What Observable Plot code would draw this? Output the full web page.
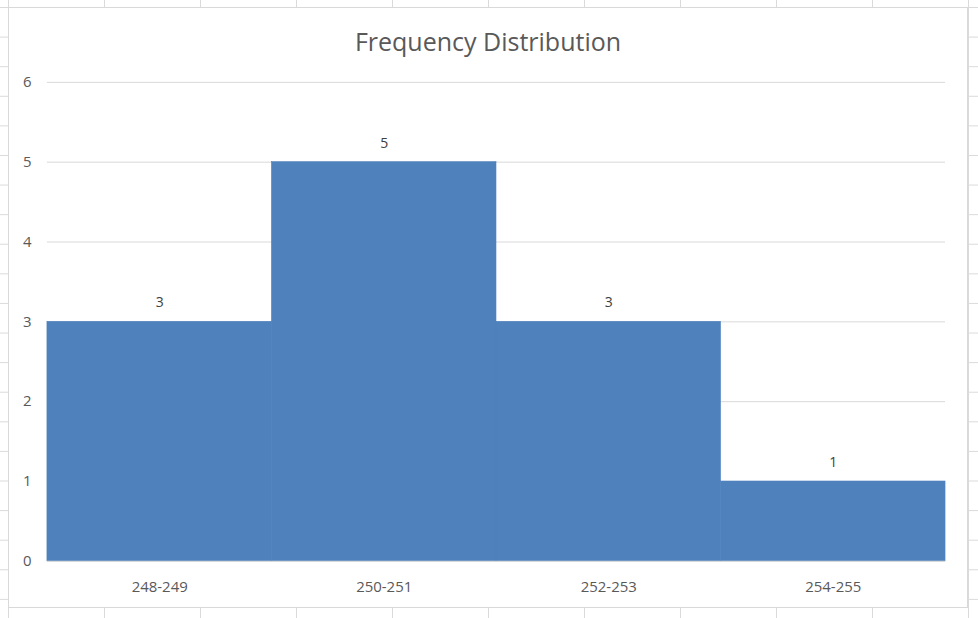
<!DOCTYPE html>
<html>
<head>
<meta charset="utf-8">
<script src="https://cdn.jsdelivr.net/npm/d3@7"></script>
<script src="https://cdn.jsdelivr.net/npm/@observablehq/plot@0.6"></script>
<style>
  html, body { margin: 0; padding: 0; }
  body {
    width: 978px; height: 618px; overflow: hidden; position: relative;
    background-color: #fff;
    background-image:
      linear-gradient(to right, #dadada 1px, transparent 1px),
      linear-gradient(to bottom, #dadada 1px, transparent 1px);
    background-size: 96px 29.6px, 96px 29.6px;
    background-position: 8px 7px, 0px 7px;
    font-family: "Open Sans", "Noto Sans", sans-serif;
  }
  #chart {
    position: absolute; left: 8px; top: 7px; width: 960px; height: 601px;
    background: #fff; border: 1px solid #d9d9d9; box-sizing: border-box;
  }
  #title {
    position: absolute; left: 0; width: 100%; top: 16px; text-align: center;
    font-size: 25px; color: #595959; font-family: "Open Sans", sans-serif;
  }
  #plot { position: absolute; left: 0; top: 0; }
</style>
</head>
<body>
<div id="chart">
  <div id="title">Frequency Distribution</div>
  <div id="plot"></div>
</div>
<script>
const categories = ["248-249", "250-251", "252-253", "254-255"];
const frequencies = [3, 5, 3, 1];
const yTicks = [0, 1, 2, 3, 4, 5, 6];

const data = categories.map((c, i) => ({category: c, value: frequencies[i]}));

const plot = Plot.plot({
  width: 960,
  height: 601,
  marginLeft: 38,
  marginRight: 22,
  marginTop: 74,
  marginBottom: 47,
  style: {fontFamily: "'Open Sans', sans-serif", fontSize: "15px", color: "#595959", background: "transparent"},
  x: {domain: categories, padding: 0, label: null, tickSize: 0, tickPadding: 20},
  y: {domain: [0, 6], ticks: yTicks, tickFormat: d3.format("d"), label: null, tickSize: 0, tickPadding: 16, grid: false},
  marks: [
    Plot.gridY(yTicks, {stroke: "#d9d9d9", strokeOpacity: 1, strokeWidth: 1}),
    Plot.barY(data, {x: "category", y: "value", fill: "#4f81bd", stroke: "#4f81bd", strokeWidth: 0.6, inset: 0}),
    Plot.ruleY([0], {stroke: "#d9d9d9", strokeWidth: 1}),
    Plot.text(data, {x: "category", y: "value", text: d => String(d.value), dy: -19, fill: "#404040", fontSize: 14})
  ]
});
document.getElementById("plot").appendChild(plot);
</script>
</body>
</html>
